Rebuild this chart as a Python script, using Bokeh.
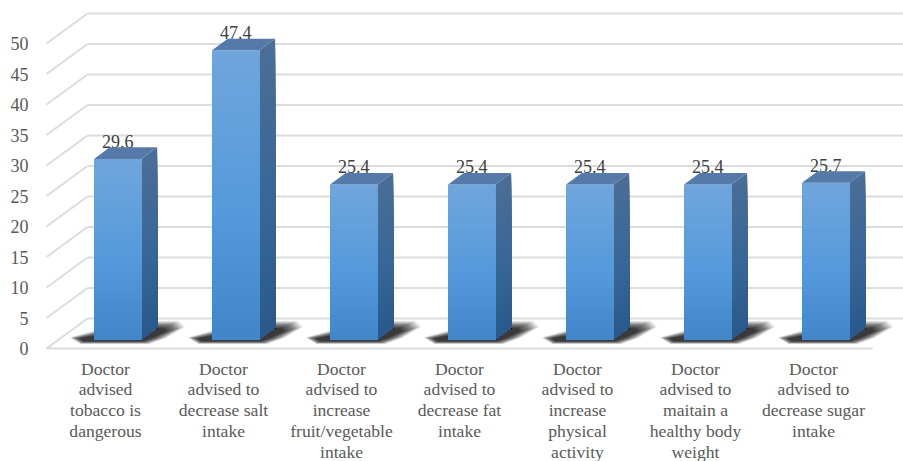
from bokeh.embed import file_html
from bokeh.resources import INLINE
from bokeh.models import FixedTicker, Range1d
from bokeh.plotting import figure
from bokeh.core.properties import value

# Survey results: share of respondents receiving each kind of advice
categories = [
    "Doctor\nadvised\ntobacco is\ndangerous",
    "Doctor\nadvised to\ndecrease salt\nintake",
    "Doctor\nadvised to\nincrease\nfruit/vegetable\nintake",
    "Doctor\nadvised to\ndecrease fat\nintake",
    "Doctor\nadvised to\nincrease\nphysical\nactivity",
    "Doctor\nadvised to\nmaitain a\nhealthy body\nweight",
    "Doctor\nadvised to\ndecrease sugar\nintake",
]
values = [29.6, 47.4, 25.4, 25.4, 25.4, 25.4, 25.7]
y_ticks = [0, 5, 10, 15, 20, 25, 30, 35, 40, 45, 50]

# Scale: one category slot and one value unit, expressed in screen pixels
SLOT_PX = 118.0
UNIT_PX = 6.1
LEFT_PX, BOTTOM_PX, WIDTH, HEIGHT = 46, 113, 903, 461
FONT = "Liberation Serif"

# Oblique projection offsets of the 3D box
WALL_DX, WALL_DY = 41 / SLOT_PX, 30 / UNIT_PX
BAR_DX, BAR_DY = 15.7 / SLOT_PX, 11.6 / UNIT_PX
BAR_LEFT, BAR_W = -0.097, 47.4 / SLOT_PX
BAR_BASE = 9 / UNIT_PX
STRIPS = 64


def mix(stops, t):
    for (t0, c0), (t1, c1) in zip(stops, stops[1:]):
        if t <= t1:
            f = (t - t0) / (t1 - t0)
            return "#%02x%02x%02x" % tuple(round(a + (b - a) * f) for a, b in zip(c0, c1))
    return "#%02x%02x%02x" % stops[-1][1]


FRONT = [(0, (0x70, 0xa5, 0xdc)), (0.55, (0x55, 0x9a, 0xdc)), (1, (0x42, 0x86, 0xca))]
SIDE = [(0, (0x4a, 0x6e, 0x97)), (0.55, (0x38, 0x67, 0x98)), (1, (0x2a, 0x5a, 0x8c))]
SHADOW = [(0, (0xfd, 0xfd, 0xfd)), (0.5, (0x82, 0x82, 0x82)), (1, (0x3a, 0x3a, 0x3a))]
TOP_COLOR = "#5579a8"
GRID_COLOR = "#dcdcdc"

x_start = -0.5 - LEFT_PX / SLOT_PX
x_end = x_start + WIDTH / SLOT_PX
y_start = -BOTTOM_PX / UNIT_PX
y_end = y_start + HEIGHT / UNIT_PX

p = figure(
    width=WIDTH, height=HEIGHT, output_backend="svg", toolbar_location=None,
    x_range=Range1d(x_start, x_end), y_range=Range1d(y_start, y_end),
    min_border=0,
    background_fill_color="white", border_fill_color="white", outline_line_color=None,
)
p.grid.visible = False

# Value axis: labels only, the wall lines carry the scale
p.yaxis.fixed_location = -0.5
p.yaxis.ticker = FixedTicker(ticks=y_ticks)
p.yaxis.axis_line_color = None
p.yaxis.major_tick_line_color = None
p.yaxis.minor_tick_line_color = None
p.yaxis.major_label_standoff = 12
p.yaxis.major_label_text_font = FONT
p.yaxis.major_label_text_font_size = "18px"
p.yaxis.major_label_text_color = "#595959"

# Category axis: its line is the front edge of the floor
p.xaxis.fixed_location = 0
p.xaxis.ticker = FixedTicker(ticks=list(range(len(categories))))
p.xaxis.major_label_overrides = dict(enumerate(categories))
p.xaxis.bounds = (-0.5, len(categories) - 0.5)
p.xaxis.axis_line_color = GRID_COLOR
p.xaxis.axis_line_width = 2
p.xaxis.major_tick_line_color = None
p.xaxis.minor_tick_line_color = None
p.xaxis.major_label_standoff = 4
p.xaxis.major_label_text_font = FONT
p.xaxis.major_label_text_font_size = "17.6px"
p.xaxis.major_label_text_line_height = 1.04
p.xaxis.major_label_text_color = "#595959"

# Back wall lines and the diagonals running along the side wall
p.segment(x0=[-0.5 + WALL_DX] * len(y_ticks), x1=[x_end] * len(y_ticks),
          y0=[t + WALL_DY for t in y_ticks], y1=[t + WALL_DY for t in y_ticks],
          line_color=GRID_COLOR, line_width=2)
p.segment(x0=[-0.5] * len(y_ticks), x1=[-0.5 + WALL_DX] * len(y_ticks),
          y0=y_ticks, y1=[t + WALL_DY for t in y_ticks],
          line_color=GRID_COLOR, line_width=2)

# Soft floor shadows, built from nested shapes that darken towards the bar
SHADOW_STEPS = 26
# Corner offsets in pixels from the bar's lower-left front corner: outer, inner
SHADOW_OUTER = [(-25, 2), (-14, -4.5), (56, -4.5), (74, 2), (92, 13), (86, 19), (34, 19), (10, 12)]
SHADOW_INNER = [(-14, 1), (-10, -1.5), (48, -1.5), (56, 1), (72, 8), (69, 11), (40, 11), (24, 8)]
for i in range(len(values)):
    left = i + BAR_LEFT
    xs, ys, cs = [], [], []
    for s in range(SHADOW_STEPS):
        f = s / (SHADOW_STEPS - 1)
        xs.append([left + (o[0] + (n[0] - o[0]) * f) / SLOT_PX for o, n in zip(SHADOW_OUTER, SHADOW_INNER)])
        ys.append([BAR_BASE + (o[1] + (n[1] - o[1]) * f) / UNIT_PX for o, n in zip(SHADOW_OUTER, SHADOW_INNER)])
        cs.append(mix(SHADOW, f))
    p.patches(xs, ys, fill_color=cs, line_color=None)

# Value labels sit behind the bars, so the top faces overlap them slightly
p.text(x=[i + BAR_LEFT + BAR_W / 2 for i in range(len(values))],
       y=[BAR_BASE + v + BAR_DY + 6 / UNIT_PX for v in values],
       text=[str(v) for v in values],
       text_align="center", text_baseline="middle",
       text_font=value(FONT), text_font_size="18px", text_color="#404040")

# Bars: each face is painted as stacked strips to give a vertical gradient
for i, v in enumerate(values):
    x0, x1 = i + BAR_LEFT, i + BAR_LEFT + BAR_W
    top = BAR_BASE + v
    span = top - BAR_BASE
    front_x, front_y, front_c, side_x, side_y, side_c = [], [], [], [], [], []
    for s in range(STRIPS):
        t = s / (STRIPS - 1)
        y_hi = top - span * s / STRIPS
        front_x.append([x0, x1, x1, x0])
        front_y.append([y_hi, y_hi, BAR_BASE, BAR_BASE])
        front_c.append(mix(FRONT, t))
        side_x.append([x1, x1 + BAR_DX, x1 + BAR_DX, x1])
        side_y.append([y_hi, y_hi + BAR_DY, BAR_BASE + BAR_DY, BAR_BASE])
        side_c.append(mix(SIDE, t))
    p.patches(side_x, side_y, fill_color=side_c, line_color=None)
    p.patches(front_x, front_y, fill_color=front_c, line_color=None)
    p.patch([x0, x1, x1 + BAR_DX, x0 + BAR_DX], [top, top, top + BAR_DY, top + BAR_DY],
            fill_color=TOP_COLOR, line_color=None)

open("out.html", "w").write(file_html(p, INLINE))
